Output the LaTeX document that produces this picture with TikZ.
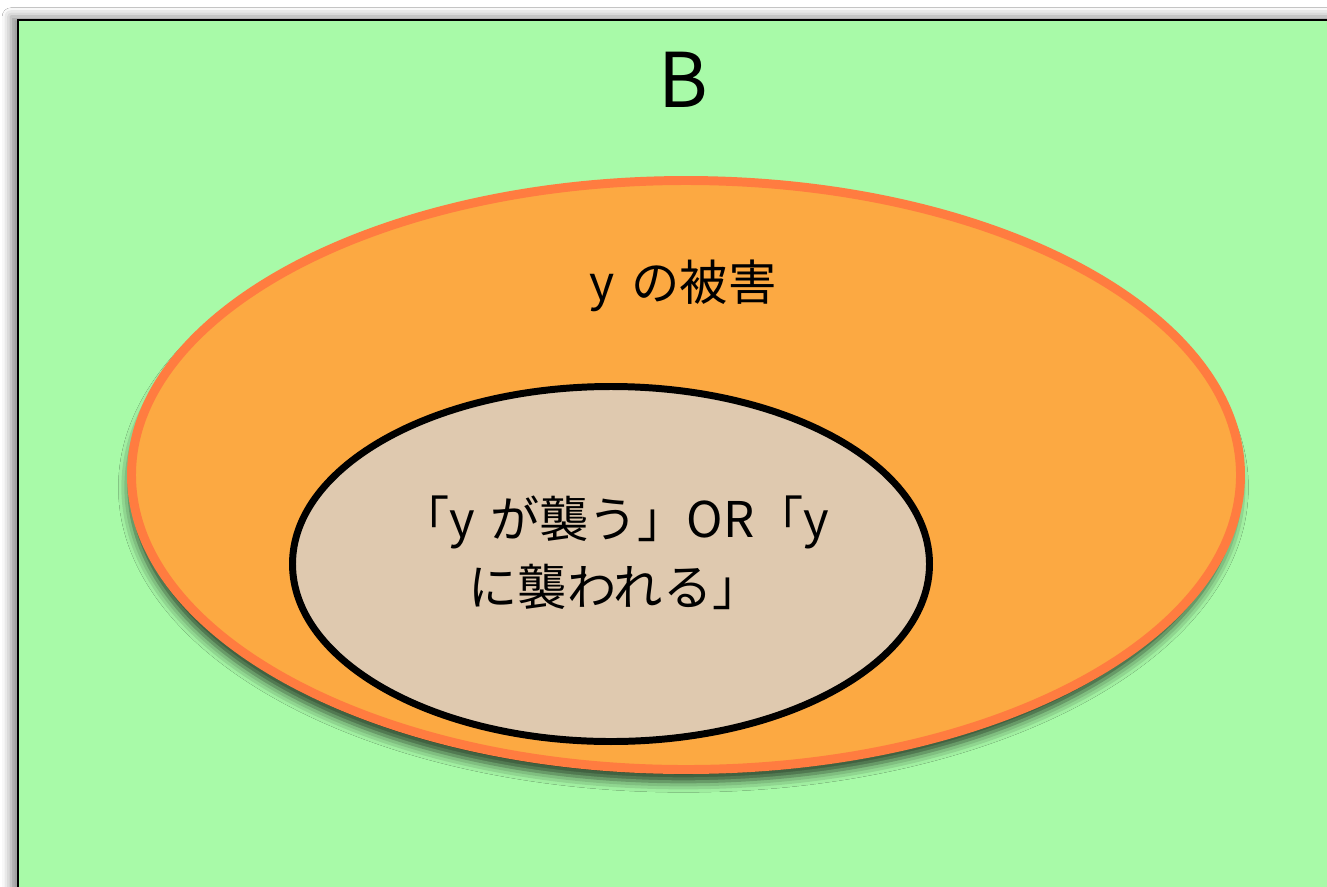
\documentclass[tikz,border=0pt]{standalone}
\usepackage{fontspec}
\setmainfont{Noto Sans CJK JP}
\usetikzlibrary{shadows.blur}
\definecolor{bggreen}{HTML}{A8FAA8}
\definecolor{orfill}{HTML}{FCA942}
\definecolor{oredge}{HTML}{FF7C40}
\definecolor{infill}{HTML}{DFC9AF}
\tikzset{
  px/.style={x=0.02cm,y=-0.02cm},
  setbox/.style={draw=black,line width=3*0.5669pt,fill=bggreen,
    blur shadow={shadow xshift=-4pt,shadow yshift=2pt,shadow blur radius=5pt,shadow opacity=45}},
  outerset/.style={draw=oredge,line width=9*0.5669pt,fill=orfill,
    blur shadow={shadow xshift=-1.5pt,shadow yshift=-7pt,shadow blur radius=6pt,shadow opacity=75}},
  innerset/.style={draw=black,line width=7*0.5669pt,fill=infill},
  lbl/.style={inner sep=0pt,text=black}
}
\begin{document}
\begin{tikzpicture}[px]
\fill[white] (0,0) rectangle (1327,886);
\useasboundingbox (0,0) rectangle (1327,886);
\clip (0,0) rectangle (1327,886);
\path[setbox] (18,20) rectangle (1360,920);
\node[lbl,font=\fontsize{43}{46}\selectfont] (B) at (683,80) {B};
\path[outerset] (686,475) ellipse [x radius=554.5, y radius=294.5];
\node[lbl,font=\fontsize{27.5}{30}\selectfont] (dmg) at (683,286) {y\hspace{0.35em}の被害};
\path[innerset] (611,564) ellipse [x radius=318.5, y radius=177.5];
\node[lbl,align=center,font=\fontsize{28}{39}\selectfont] (atk) at (615,553) {「y\hspace{0.3em}が襲う」OR「y\\に襲われる」};
\end{tikzpicture}
\end{document}
